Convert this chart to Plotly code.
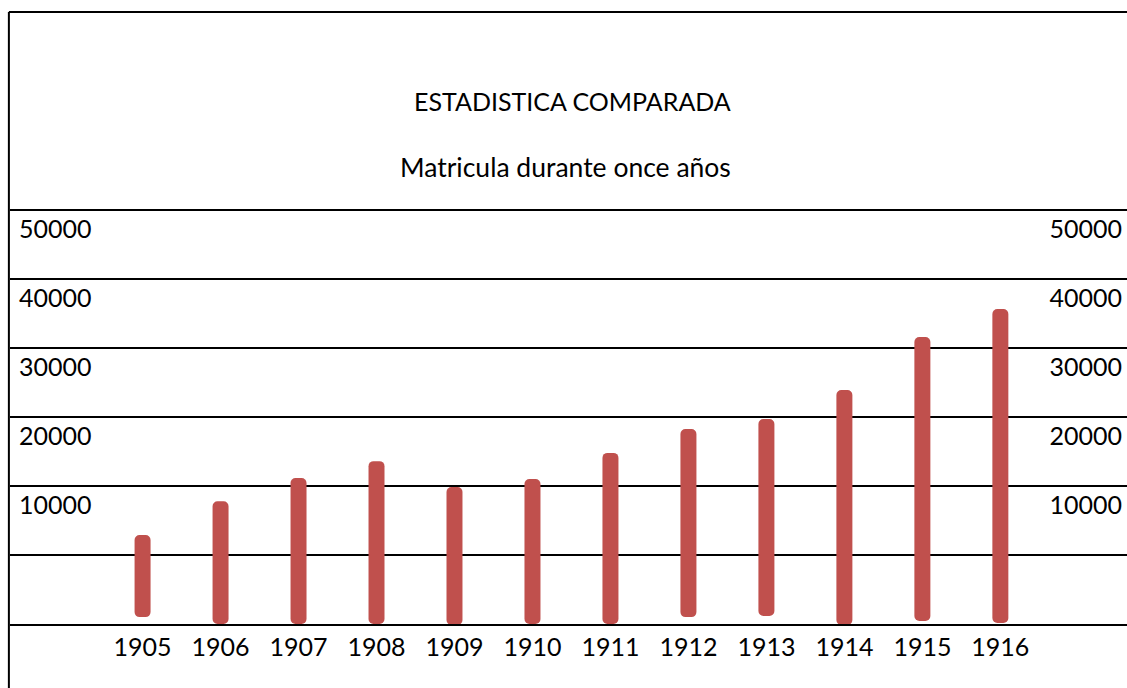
import plotly.graph_objects as go

years = ["1905", "1906", "1907", "1908", "1909", "1910",
         "1911", "1912", "1913", "1914", "1915", "1916"]
# top and bottom of each drawn bar, in axis units (labels mark the line above each row)
bar_top = [2900, 7800, 11150, 13600, 9850, 11000,
           14800, 18250, 19700, 23900, 31600, 35650]
bar_bottom = [-9000, -10000, -10000, -10000, -10150, -10000,
              -10000, -9000, -8850, -10150, -9550, -9850]
tick_vals = [0, 10000, 20000, 30000, 40000, 50000]
tick_text = ["", "10000", "20000", "30000", "40000", "50000"]
title_text = "ESTADISTICA COMPARADA"
subtitle_text = "Matricula durante once años"

RED = "#C0504D"
FONT = "Lato"

bar_len = [t - b for t, b in zip(bar_top, bar_bottom)]

fig = go.Figure()
fig.add_trace(go.Bar(x=years, y=bar_len, base=bar_bottom, width=0.205,
                     marker=dict(color=RED, line=dict(width=0), cornerradius=5),
                     hoverinfo="skip", showlegend=False))
# invisible trace to activate right axis
fig.add_trace(go.Scatter(x=years, y=bar_top, yaxis="y2", mode="markers",
                         marker=dict(opacity=0), hoverinfo="skip", showlegend=False))

yrange = [-10000, 50000]
tickfont = dict(family=FONT, size=25, color="black")
fig.update_layout(
    width=1127, height=688,
    margin=dict(l=10, r=0, t=210, b=64),
    paper_bgcolor="white", plot_bgcolor="white",
    font=dict(family=FONT, size=25, color="black"),
    xaxis=dict(type="category", range=[-1.70, 12.624], showgrid=False,
               showline=True, linecolor="black", linewidth=2,
               ticks="", tickfont=tickfont, fixedrange=True),
    yaxis=dict(range=yrange, tickvals=tick_vals, ticktext=tick_text,
               showgrid=True, gridcolor="black", gridwidth=2, zeroline=False,
               ticks="", ticklabelposition="inside", ticklabelshift=19,
               ticklabelstandoff=6, tickfont=tickfont, fixedrange=True),
    yaxis2=dict(range=yrange, tickvals=tick_vals, ticktext=tick_text,
                overlaying="y", side="right", showgrid=False, zeroline=False,
                ticks="", ticklabelposition="inside", ticklabelshift=19,
                ticklabelstandoff=2, tickfont=tickfont, fixedrange=True),
    annotations=[
        dict(text=title_text, xref="paper", yref="paper", x=(572 - 10) / 1117,
             y=(624 - 101) / 414, xanchor="center", yanchor="middle", showarrow=False,
             font=dict(family=FONT, size=25, color="black")),
        dict(text=subtitle_text, xref="paper", yref="paper", x=(565 - 10) / 1117,
             y=(624 - 167) / 414, xanchor="center", yanchor="middle", showarrow=False,
             font=dict(family=FONT, size=26.5, color="black")),
    ],
    shapes=[
        dict(type="line", xref="paper", yref="paper", x0=0, x1=1.01, y0=1, y1=1,
             line=dict(color="black", width=2)),
        dict(type="line", xref="paper", yref="paper", x0=-0.001, x1=1.01,
             y0=(624 - 12) / 414, y1=(624 - 12) / 414, line=dict(color="black", width=2)),
        dict(type="line", xref="paper", yref="paper", x0=-0.001, x1=-0.001,
             y0=-0.2, y1=(624 - 12) / 414, line=dict(color="black", width=2)),
    ],
)

fig.write_html("out.html", config={"displayModeBar": False},
               post_script="document.body.style.margin='0';document.body.style.overflow='hidden';")
